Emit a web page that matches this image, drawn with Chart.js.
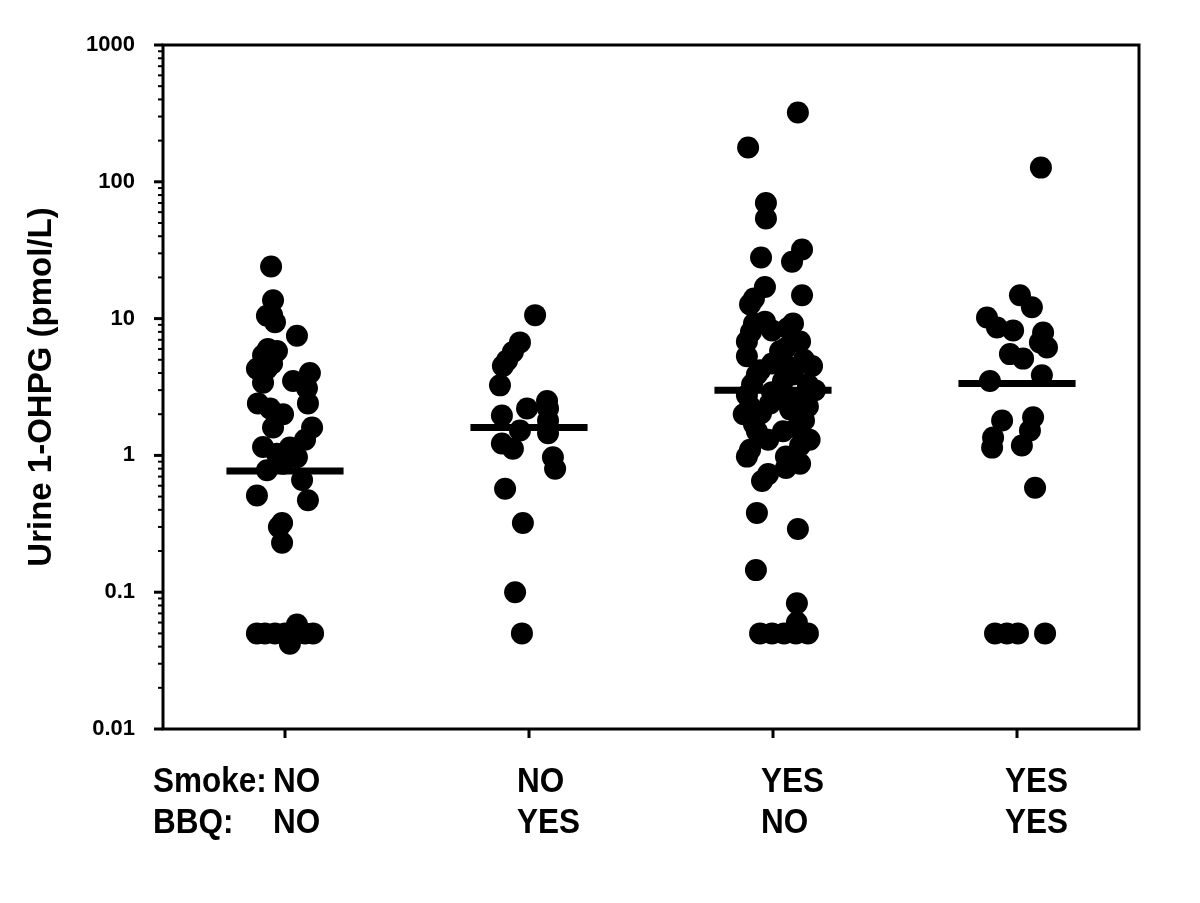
<!DOCTYPE html>
<html lang="en">
    <head>
        <meta charset="UTF-8" />
        <title>Urine 1-OHPG</title>
        <script src="https://cdn.jsdelivr.net/npm/chart.js"></script>
        <style>
            body { margin: 0; background: #fff; }
            .wrap { width: 1200px; height: 903px; }
        </style>
    </head>
    <body>
        <div class="wrap"><canvas id="dotChart"></canvas></div>

        <script>
            // groups: smoke / bbq
            const smokeLabels = ["NO", "NO", "YES", "YES"];
            const bbqLabels = ["NO", "YES", "NO", "YES"];
            const yTicks = [0.01, 0.1, 1, 10, 100, 1000];

            // values (pmol/L) and horizontal scatter (category units)
            const vals1 = [24, 13.6, 10.6, 9.4, 10.5, 7.5, 6.0, 5.4, 5.8, 4.3, 4.3, 4.7, 4.0, 3.5, 3.1, 3.4, 2.4, 2.4, 2.2, 2.0, 1.6, 1.6, 1.3, 1.15, 1.03, 0.97, 1.14, 0.78, 0.87, 0.66, 0.51, 0.47, 0.32, 0.3, 0.23, 0.05, 0.05, 0.05, 0.05, 0.05, 0.05, 0.05, 0.042, 0.058];
            const jit1 = [-0.057, -0.049, -0.053, -0.041, -0.074, 0.049, -0.07, -0.09, -0.033, -0.115, -0.074, -0.053, 0.102, 0.033, 0.09, -0.09, 0.094, -0.111, -0.061, -0.008, -0.049, 0.111, 0.082, -0.09, -0.033, 0.049, 0.02, -0.074, -0.008, 0.07, -0.115, 0.094, -0.012, -0.025, -0.012, -0.115, -0.082, -0.041, 0, 0.041, 0.082, 0.115, 0.02, 0.049];

            const vals2 = [10.6, 6.7, 5.7, 4.95, 4.5, 3.25, 2.2, 2.5, 2.2, 1.96, 1.52, 1.45, 1.22, 1.12, 0.97, 0.8, 0.57, 0.32, 0.1, 0.05, 1.8];
            const jit2 = [0.025, -0.037, -0.066, -0.09, -0.107, -0.119, -0.008, 0.074, 0.078, -0.111, -0.037, 0.078, -0.111, -0.066, 0.098, 0.107, -0.098, -0.025, -0.057, -0.029, 0.078];

            const vals3 = [321, 178, 70, 54, 28, 32, 26, 17, 14, 12.7, 14.8, 9.2, 9.2, 8.2, 6.8, 6.8, 6.1, 5.3, 5.0, 4.7, 3.9, 3.9, 3.3, 3.5, 3.3, 2.75, 2.9, 2.56, 2.28, 2.28, 2.03, 2.17, 1.69, 1.8, 1.5, 1.5, 1.6, 1.1, 1.18, 0.98, 0.98, 0.87, 0.73, 0.81, 0.65, 0.38, 0.29, 0.145, 0.083, 0.05, 0.05, 0.05, 0.05, 0.05, 0.06, 9.5, 5.8, 4.2, 4.4, 2.4, 3.0, 4.5, 2.0, 1.3, 1.3, 2.6, 8.5, 8.0];
            const jit3 = [0.102, -0.102, -0.029, -0.029, -0.049, 0.119, 0.078, -0.033, -0.078, -0.094, 0.119, -0.078, 0.082, -0.004, -0.107, 0.111, 0.053, -0.107, 0.127, -0.004, -0.066, 0.082, -0.086, 0.041, 0.143, -0.107, -0.004, 0.098, -0.094, 0.143, -0.049, 0.07, -0.078, 0.127, 0.041, -0.066, 0.098, -0.094, 0.111, 0.053, -0.107, 0.111, -0.02, 0.053, -0.045, -0.066, 0.102, -0.07, 0.098, -0.053, -0.004, 0.045, 0.094, 0.143, 0.098, -0.033, 0.029, -0.053, 0.07, -0.012, 0.172, 0.16, -0.12, 0.15, -0.02, 0.03, 0.06, -0.09];

            const vals4 = [127, 14.8, 12.1, 10.2, 8.6, 8.2, 7.9, 6.15, 5.5, 5.1, 6.7, 3.5, 3.85, 1.8, 1.9, 1.52, 1.35, 1.14, 1.18, 0.58, 0.05, 0.05, 0.05, 0.05];
            const jit4 = [0.098, 0.012, 0.061, -0.123, -0.082, -0.016, 0.107, 0.123, -0.029, 0.025, 0.094, -0.111, 0.102, -0.061, 0.066, 0.053, -0.098, -0.102, 0.02, 0.074, -0.09, -0.041, 0.004, 0.115];

            const medians = [0.77, 1.6, 3.0, 3.35];
            const medianHalf = 0.24;

            const groups = [
                [vals1, jit1],
                [vals2, jit2],
                [vals3, jit3],
                [vals4, jit4],
            ];

            const datasets = [];
            groups.forEach(([vals, jit], i) => {
                datasets.push({
                    type: "scatter",
                    data: vals.map((v, k) => ({ x: i + jit[k], y: v })),
                    backgroundColor: "#000",
                    borderWidth: 0,
                    pointRadius: 11,
                    pointHoverRadius: 11,
                });
            });
            medians.forEach((m, i) => {
                datasets.push({
                    type: "line",
                    data: [
                        { x: i - medianHalf, y: m },
                        { x: i + medianHalf, y: m },
                    ],
                    borderColor: "#000",
                    borderWidth: 7,
                    pointRadius: 0,
                });
            });

            // frame, tick marks and the two-row group labels
            const framePlugin = {
                id: "frame",
                afterDraw(chart) {
                    const { ctx, chartArea: a, scales } = chart;
                    const xs = scales.x, ys = scales.y;
                    ctx.save();
                    ctx.strokeStyle = "#000";
                    ctx.lineWidth = 3;
                    ctx.strokeRect(a.left, a.top, a.right - a.left, a.bottom - a.top);

                    yTicks.forEach((t) => {
                        const y = ys.getPixelForValue(t);
                        ctx.beginPath();
                        ctx.moveTo(a.left - 9, y);
                        ctx.lineTo(a.left, y);
                        ctx.stroke();
                    });
                    ctx.lineWidth = 2;
                    yTicks.slice(0, -1).forEach((d) => {
                        for (let m = 2; m <= 9; m++) {
                            const y = ys.getPixelForValue(m * d);
                            ctx.beginPath();
                            ctx.moveTo(a.left - 5, y);
                            ctx.lineTo(a.left, y);
                            ctx.stroke();
                        }
                    });
                    ctx.lineWidth = 3;
                    smokeLabels.forEach((_, i) => {
                        const x = xs.getPixelForValue(i);
                        ctx.beginPath();
                        ctx.moveTo(x, a.bottom);
                        ctx.lineTo(x, a.bottom + 9);
                        ctx.stroke();
                    });

                    // narrow, tall lettering like the original
                    ctx.fillStyle = "#000";
                    ctx.font = "bold 35px 'Liberation Sans', Arial, sans-serif";
                    ctx.textBaseline = "middle";
                    ctx.textAlign = "left";
                    const sx = 0.9;
                    const put = (t, x, y) => {
                        ctx.save();
                        ctx.translate(x, y);
                        ctx.scale(sx, 1);
                        ctx.fillText(t, 0, 0);
                        ctx.restore();
                    };
                    put("Smoke:", a.left - 10, 782);
                    put("BBQ:", a.left - 10, 823);
                    smokeLabels.forEach((s, i) => {
                        const x = xs.getPixelForValue(i) - 12;
                        put(s, x, 782);
                        put(bbqLabels[i], x, 823);
                    });
                    ctx.restore();
                },
            };

            new Chart(document.getElementById("dotChart"), {
                data: { datasets },
                plugins: [framePlugin],
                options: {
                    responsive: true,
                    maintainAspectRatio: false,
                    devicePixelRatio: 1,
                    animation: false,
                    events: [],
                    layout: { padding: { top: 45, right: 61, bottom: 0, left: 0 } },
                    plugins: { legend: { display: false }, tooltip: { enabled: false } },
                    scales: {
                        x: {
                            type: "linear",
                            min: -0.5,
                            max: 3.5,
                            ticks: { display: false },
                            grid: { display: false, drawTicks: false },
                            border: { display: false },
                            afterFit(scale) {
                                scale.height = 174;
                            },
                        },
                        y: {
                            type: "logarithmic",
                            min: 0.01,
                            max: 1000,
                            afterBuildTicks(scale) {
                                scale.ticks = yTicks.map((v) => ({ value: v }));
                            },
                            ticks: {
                                color: "#000",
                                padding: 28,
                                font: { family: "'Liberation Sans', Arial, sans-serif", size: 22, weight: "bold" },
                                callback: (v) => String(v),
                            },
                            grid: { display: false, drawTicks: false },
                            border: { display: false },
                            title: {
                                display: true,
                                text: "Urine 1-OHPG (pmol/L)",
                                color: "#000",
                                font: { family: "'Liberation Sans', Arial, sans-serif", size: 33, weight: "bold" },
                                padding: { top: 22, bottom: 0 },
                            },
                            afterFit(scale) {
                                scale.width = 163;
                            },
                        },
                    },
                },
            });
        </script>
    </body>
</html>
